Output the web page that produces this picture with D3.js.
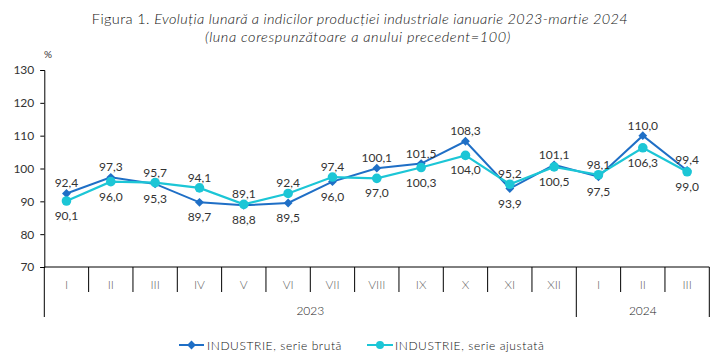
<!DOCTYPE html>
<html><head><meta charset="utf-8">
<script src="https://cdn.jsdelivr.net/npm/d3@7"></script>
<style>
body{margin:0;background:#fff;}
text{font-family:Lato,"Open Sans",sans-serif;}
</style></head>
<body><svg id="c" width="716" height="359"></svg>
<script>
const months = ["I","II","III","IV","V","VI","VII","VIII","IX","X","XI","XII","I","II","III"];
const years = ["2023","2024"];
const yearSpans = [12, 3];
const bruta = [92.4,97.3,95.3,89.7,88.8,89.5,96.0,100.1,101.5,108.3,93.9,101.1,97.5,110.0,99.4];
const ajustata = [90.1,96.0,95.7,94.1,89.1,92.4,97.4,97.0,100.3,104.0,95.2,100.5,98.1,106.3,99.0];
const yTicks = [70,80,90,100,110,120,130];
const seriesNames = ["INDUSTRIE, serie brută","INDUSTRIE, serie ajustată"];

const colB = "#1f6fc6", colA = "#1cc6d6";
const svg = d3.select("#c");
const L = 44.3, R = 709.3, T = 70, B = 267;
const x = d3.scaleBand().domain(d3.range(months.length)).range([L, R]);
const y = d3.scaleLinear().domain([70,130]).range([B, T]);
const fmt = v => v.toFixed(1).replace(".", ",");

// title
const title = svg.append("text").attr("x", 360).attr("y", 24).attr("text-anchor","middle")
  .attr("font-size", 14.5).attr("font-weight", 300).attr("letter-spacing", 0.4).attr("fill","#111");
title.append("tspan").text("Figura 1. ");
title.append("tspan").attr("font-style","italic").text("Evoluția lunară a indicilor producției industriale ianuarie 2023-martie 2024");
svg.append("text").attr("x", 358).attr("y", 42).attr("text-anchor","middle")
  .attr("font-size", 14.5).attr("font-weight", 300).attr("letter-spacing", 0.6).attr("font-style","italic").attr("fill","#111")
  .text("(luna corespunzătoare a anului precedent=100)");
svg.append("text").attr("x", 44).attr("y", 58).attr("font-size", 10).attr("fill","#333").text("%");

// y axis
const ya = svg.append("g").attr("transform",`translate(${L},0)`)
  .call(d3.axisLeft(y).tickValues(yTicks).tickSize(4).tickPadding(6).tickFormat(d3.format("d")));
ya.select(".domain").attr("stroke","#000");
ya.selectAll(".tick line").attr("stroke","#000");
ya.selectAll(".tick text").attr("font-size", 12).attr("fill","#333").attr("font-family","Lato,sans-serif");

// x axis baseline
svg.append("line").attr("x1", L).attr("x2", R).attr("y1", B).attr("y2", B).attr("stroke","#000");
// month separators
const edges = d3.range(months.length + 1).map(i => i < months.length ? x(i) : x(months.length-1) + x.bandwidth());
const yearEdges = [0]; yearSpans.reduce((a,s)=>{yearEdges.push(a+s); return a+s;},0);
svg.selectAll(".msep").data(edges).join("line")
  .attr("x1", d=>d).attr("x2", d=>d).attr("y1", B)
  .attr("y2", (d,i)=> yearEdges.includes(i) ? 317 : 292)
  .attr("stroke","#000");
svg.selectAll(".mlab").data(months).join("text")
  .attr("x", (d,i)=> x(i) + x.bandwidth()/2).attr("y", 289)
  .attr("text-anchor","middle").attr("font-size", 12).attr("font-weight", 300).attr("fill","#666").text(d=>d);
svg.selectAll(".ylab").data(years).join("text")
  .attr("x", (d,i)=> (edges[yearEdges[i]] + edges[yearEdges[i+1]])/2).attr("y", 315)
  .attr("text-anchor","middle").attr("font-size", 12).attr("font-weight", 300).attr("fill","#222").text(d=>d);

// lines
const line = d3.line().x((d,i)=> x(i) + x.bandwidth()/2).y(d=>y(d));
svg.append("path").datum(bruta).attr("d", line).attr("fill","none").attr("stroke", colB).attr("stroke-width", 2);
svg.append("path").datum(ajustata).attr("d", line).attr("fill","none").attr("stroke", colA).attr("stroke-width", 2.2);
const diamond = d3.symbol().type(d3.symbolDiamond2).size(50);
svg.selectAll(".db").data(bruta).join("path")
  .attr("transform",(d,i)=>`translate(${x(i)+x.bandwidth()/2},${y(d)})`)
  .attr("d", diamond).attr("fill", colB);
svg.selectAll(".ca").data(ajustata).join("circle")
  .attr("cx",(d,i)=> x(i)+x.bandwidth()/2).attr("cy", d=>y(d)).attr("r", 4.8).attr("fill", colA);

// data labels: higher value above, lower below
function labels(arr, other){
  svg.append("g").selectAll("text").data(arr).join("text")
    .attr("x",(d,i)=> x(i)+x.bandwidth()/2)
    .attr("y",(d,i)=> d >= other[i] ? y(d) - 6 : y(d) + 19)
    .attr("text-anchor","middle").attr("font-size", 12).attr("fill","#333")
    .text(d=>fmt(d));
}
labels(bruta, ajustata);
labels(ajustata, bruta);

// legend
const lg = svg.append("g").attr("transform","translate(0,345)");
lg.append("line").attr("x1",179).attr("x2",204).attr("stroke",colB).attr("stroke-width",2);
lg.append("path").attr("transform","translate(191.5,0)").attr("d", diamond).attr("fill", colB);
lg.append("text").attr("x",207).attr("y",4.5).attr("font-size",12).attr("font-weight",300).attr("letter-spacing",0.6).attr("fill","#111").text(seriesNames[0]);
lg.append("line").attr("x1",367).attr("x2",393).attr("stroke",colA).attr("stroke-width",2);
lg.append("circle").attr("cx",380).attr("cy",0).attr("r",4).attr("fill", colA);
lg.append("text").attr("x",395).attr("y",4.5).attr("font-size",12).attr("font-weight",300).attr("letter-spacing",0.6).attr("fill","#111").text(seriesNames[1]);
</script></body></html>
